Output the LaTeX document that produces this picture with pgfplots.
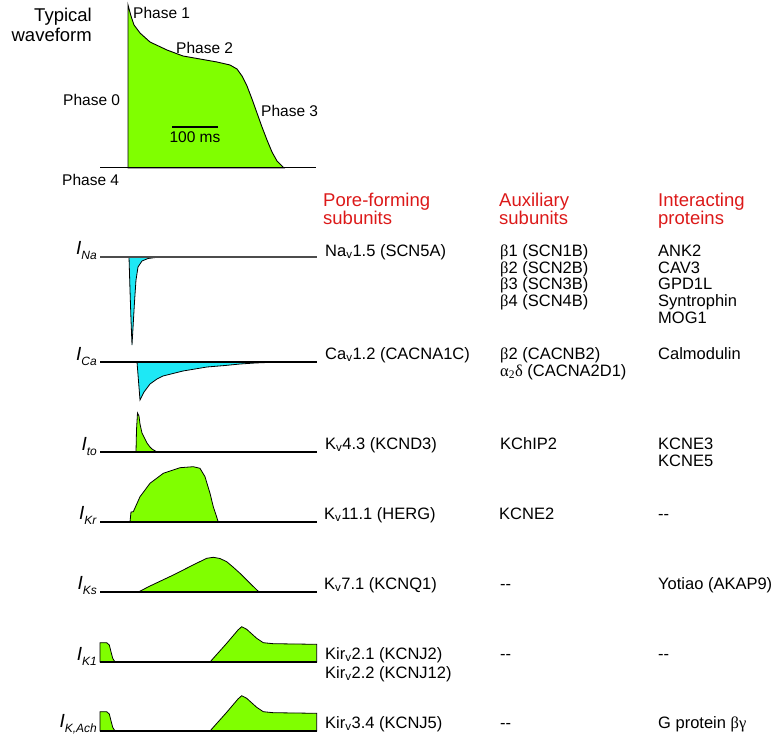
\documentclass[border=0pt]{standalone}
\usepackage{pgfplots}
\pgfplotsset{compat=1.18}
\usepackage{fontspec}
\setmainfont{Liberation Sans}
\newfontfamily\grk{Liberation Serif}
\definecolor{wgreen}{RGB}{128,255,0}
\definecolor{wcyan}{RGB}{30,232,245}
\definecolor{hdred}{RGB}{220,25,25}

% text styles, sizes in pt = px of the 782x741 picture
\tikzset{
  hd/.style={anchor=base west, inner sep=0pt, text=hdred, font=\fontsize{18.5}{18.5}\selectfont, yshift=-6.5pt},
  bd/.style={anchor=base west, inner sep=0pt, font=\fontsize{16.5}{16.5}\selectfont, yshift=-6pt},
  ph/.style={anchor=base west, inner sep=0pt, font=\fontsize{15.5}{15.5}\selectfont, yshift=-5.5pt},
  cur/.style={anchor=base east, inner sep=0pt},
}
\newcommand{\cI}[1]{\fontsize{19}{19}\selectfont\textit{I}\raisebox{-5.5pt}{\fontsize{12}{12}\selectfont\textit{#1}}}
\newcommand{\sv}{\textsubscript{v}}
\newcommand{\dd}{{-}{-}}

\begin{document}
\begin{tikzpicture}
\begin{axis}[
    name=ax,
    hide axis,
    scale only axis,
    width=782pt, height=741pt,
    xmin=0, xmax=782, ymin=0, ymax=741,
    y dir=reverse,
    clip=false,
  ]
  % typical action potential
  \addplot[draw=black, fill=wgreen, line width=0.9pt] coordinates {
    (128,168) (128,5) (131,16) (134,25) (140,33) (150,42) (167,50) (183,56)
    (200,59) (217,62) (230,65) (237,69) (242,76) (247,86) (252,99) (257,113)
    (262,127) (267,140) (272,152) (277,161) (284,168)
  } -- cycle;
  \addplot[black, line width=1pt] coordinates {(100,168) (316,168)};
  % scale bar
  \addplot[black, line width=1.2pt] coordinates {(172,127) (218,127)};

  % I_Na
  \addplot[draw=black, fill=wcyan, line width=0.8pt] coordinates {
    (129,257) (130,290) (131,320) (132,345) (133,328) (134.5,302) (136,280)
    (138,267) (142,261) (148,258.5) (157,257.3) (162,257)
  } -- cycle;
  \addplot[black!70, line width=1.1pt] coordinates {(100,257) (317,257)};

  % I_Ca
  \addplot[draw=black, fill=wcyan, line width=0.8pt] coordinates {
    (137,362) (140,400) (144,392) (150,384) (157,379) (163,376) (175,373)
    (183,371) (195,369) (207,367) (225,365.5) (240,364) (255,363)
    (267,362.5) (290,362) (310,362)
  } -- cycle;
  \addplot[black, line width=1.1pt] coordinates {(100,362) (317,362)};

  % I_to
  \addplot[draw=black, fill=wgreen, line width=0.8pt] coordinates {
    (136,452) (136.5,430) (137.5,413) (139,416) (140,424) (142,433) (145,439)
    (147,443) (150,447) (152,449) (157,452)
  } -- cycle;
  \addplot[black, line width=1.1pt] coordinates {(100,452) (317,452)};

  % I_Kr
  \addplot[draw=black, fill=wgreen, line width=0.8pt] coordinates {
    (130,522) (131,512) (133.3,511.7) (140,496.7) (150,483.3) (163.3,473.3)
    (180,467.7) (193.3,466.7) (200,468.3) (205,476.7) (210,493.3)
    (213.3,506.7) (218.3,522)
  } -- cycle;
  \addplot[black, line width=1.1pt] coordinates {(100,522) (317,522)};

  % I_Ks
  \addplot[draw=black, fill=wgreen, line width=0.8pt] coordinates {
    (138.3,592) (150,586) (173.3,575) (195,564) (206.7,558.3) (213.3,557.3)
    (220,558.5) (226.7,561.7) (233,567) (240,573.3) (250,583.3) (259,592)
  } -- cycle;
  \addplot[black, line width=1.1pt] coordinates {(100,592) (317,592)};

  % I_K1
  \addplot[draw=black, fill=wgreen, line width=0.8pt] coordinates {
    (100,662) (100,642.7) (106.7,642.7) (109.3,645) (111,651.7) (112.7,658.3) (115,662)
  } -- cycle;
  \addplot[draw=black, fill=wgreen, line width=0.8pt] coordinates {
    (210,662) (226.7,643.3) (238,630) (241.7,626.7) (246.7,629.3) (256.7,638.3)
    (263.3,642.7) (273.3,643.7) (316.7,644.3) (316.7,662)
  } -- cycle;
  \addplot[black, line width=1.1pt] coordinates {(100,662) (317,662)};

  % I_K,Ach
  \addplot[draw=black, fill=wgreen, line width=0.8pt] coordinates {
    (100,731) (100,711.7) (106.7,711.7) (109.3,714) (111,720.7) (112.7,727.3) (115,731)
  } -- cycle;
  \addplot[draw=black, fill=wgreen, line width=0.8pt] coordinates {
    (210,731) (226.7,712.3) (238,699) (241.7,695.7) (246.7,698.3) (256.7,707.3)
    (263.3,711.7) (273.3,712.7) (316.7,713.3) (316.7,731)
  } -- cycle;
  \addplot[black, line width=1.1pt] coordinates {(100,731) (317,731)};

  % waveform labels
  \node[anchor=base east, inner sep=0pt, font=\fontsize{18.5}{18.5}\selectfont, yshift=-6.5pt] at (axis cs:92,15) {Typical};
  \node[anchor=base east, inner sep=0pt, font=\fontsize{18.5}{18.5}\selectfont, yshift=-6.5pt] at (axis cs:92,35) {waveform};
  \node[ph] at (axis cs:133,13) {Phase 1};
  \node[ph] at (axis cs:176,48) {Phase 2};
  \node[ph] at (axis cs:63,100) {Phase 0};
  \node[ph] at (axis cs:261,111) {Phase 3};
  \node[ph] at (axis cs:62,180) {Phase 4};
  \node[ph, anchor=base] at (axis cs:195,137) {100 ms};

  % current labels
  \node[cur] at (axis cs:97,254) {\cI{Na}};
  \node[cur] at (axis cs:97,360) {\cI{Ca}};
  \node[cur] at (axis cs:97,450) {\cI{to}};
  \node[cur] at (axis cs:97,519) {\cI{Kr}};
  \node[cur] at (axis cs:97,589) {\cI{Ks}};
  \node[cur] at (axis cs:97,660) {\cI{K1}};
  \node[cur] at (axis cs:97,727) {\cI{K,Ach}};

  % column headers
  \node[hd] at (axis cs:323,200) {Pore-forming};
  \node[hd] at (axis cs:323,218) {subunits};
  \node[hd] at (axis cs:499,200) {Auxiliary};
  \node[hd] at (axis cs:499,218) {subunits};
  \node[hd] at (axis cs:658,200) {Interacting};
  \node[hd] at (axis cs:658,218) {proteins};

  % Na row
  \node[bd] at (axis cs:325,250) {Na\sv1.5 (SCN5A)};
  \node[bd] at (axis cs:500,250) {{\grk β}1 (SCN1B)};
  \node[bd] at (axis cs:500,267) {{\grk β}2 (SCN2B)};
  \node[bd] at (axis cs:500,283) {{\grk β}3 (SCN3B)};
  \node[bd] at (axis cs:500,300) {{\grk β}4 (SCN4B)};
  \node[bd] at (axis cs:658,250) {ANK2};
  \node[bd] at (axis cs:658,267) {CAV3};
  \node[bd] at (axis cs:658,283) {GPD1L};
  \node[bd] at (axis cs:658,300) {Syntrophin};
  \node[bd] at (axis cs:658,317) {MOG1};
  % Ca row
  \node[bd] at (axis cs:325,353) {Ca\sv1.2 (CACNA1C)};
  \node[bd] at (axis cs:500,353) {{\grk β}2 (CACNB2)};
  \node[bd] at (axis cs:500,370) {{\grk α\textsubscript{2}δ} (CACNA2D1)};
  \node[bd] at (axis cs:658,353) {Calmodulin};
  % to row
  \node[bd] at (axis cs:325,443) {K\sv4.3 (KCND3)};
  \node[bd] at (axis cs:500,443) {KChIP2};
  \node[bd] at (axis cs:658,443) {KCNE3};
  \node[bd] at (axis cs:658,460) {KCNE5};
  % Kr row
  \node[bd] at (axis cs:324,513) {K\sv11.1 (HERG)};
  \node[bd] at (axis cs:499,513) {KCNE2};
  \node[bd] at (axis cs:658,513) {\dd};
  % Ks row
  \node[bd] at (axis cs:324,583) {K\sv7.1 (KCNQ1)};
  \node[bd] at (axis cs:500,583) {\dd};
  \node[bd] at (axis cs:658,583) {Yotiao (AKAP9)};
  % K1 row
  \node[bd] at (axis cs:325,653) {Kir\sv2.1 (KCNJ2)};
  \node[bd] at (axis cs:325,672) {Kir\sv2.2 (KCNJ12)};
  \node[bd] at (axis cs:500,653) {\dd};
  \node[bd] at (axis cs:658,653) {\dd};
  % K,Ach row
  \node[bd] at (axis cs:325,722) {Kir\sv3.4 (KCNJ5)};
  \node[bd] at (axis cs:500,722) {\dd};
  \node[bd] at (axis cs:658,722) {G protein {\grk βγ}};
\end{axis}
\pgfresetboundingbox
\path (ax.south west) rectangle (ax.north east);
\end{tikzpicture}
\end{document}
